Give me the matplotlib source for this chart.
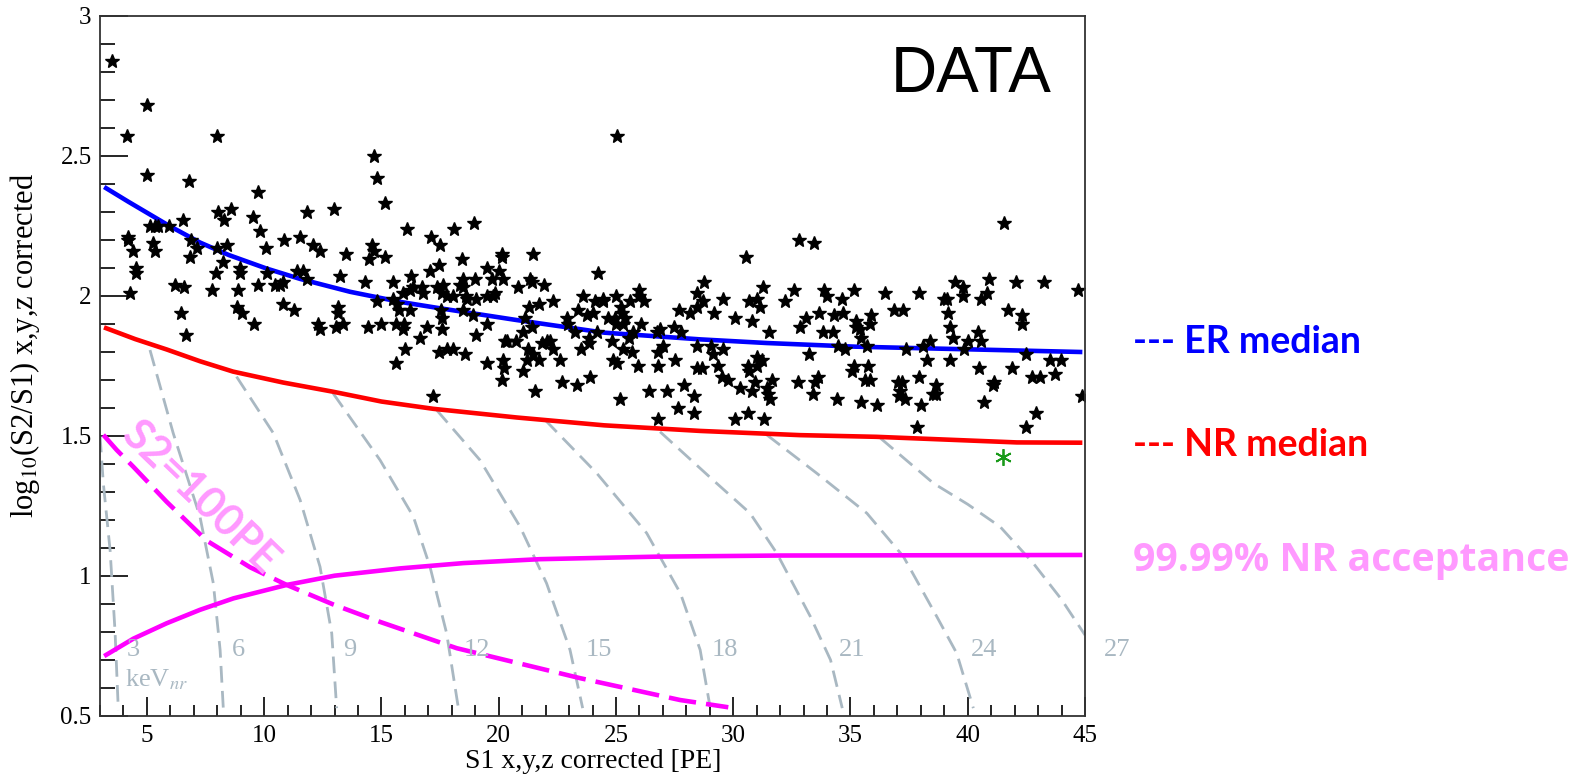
import numpy as np
import matplotlib.pyplot as plt
from matplotlib.ticker import MultipleLocator, FuncFormatter

plt.rcParams['font.family'] = ['Liberation Serif', 'DejaVu Serif']
plt.rcParams['mathtext.fontset'] = 'stix'

# events (S1 [PE], log10(S2/S1)), split by S1 range
evt_a = [(3.50, 2.84), (4.99, 2.68), (4.14, 2.57), (7.98, 2.57), (5.02, 2.43), (6.80, 2.41),
         (9.75, 2.37), (8.57, 2.31), (8.05, 2.30), (8.30, 2.27), (9.54, 2.28), (9.82, 2.23),
         (11.84, 2.30), (12.99, 2.31), (6.53, 2.27), (5.13, 2.25), (5.35, 2.25), (5.49, 2.25),
         (5.94, 2.25), (4.21, 2.21), (4.21, 2.20), (4.42, 2.16), (5.27, 2.19), (5.35, 2.16),
         (6.87, 2.20), (7.12, 2.17), (6.84, 2.14), (7.98, 2.17), (8.43, 2.18), (8.23, 2.12),
         (10.86, 2.20), (11.53, 2.21), (10.06, 2.17), (12.10, 2.18), (12.38, 2.16), (13.49, 2.15),
         (4.54, 2.10), (4.54, 2.08), (7.95, 2.08), (8.97, 2.10), (8.97, 2.08), (10.14, 2.08),
         (11.39, 2.09), (11.67, 2.09), (11.84, 2.06), (13.23, 2.07), (4.28, 2.01), (6.20, 2.04),
         (6.60, 2.03), (7.78, 2.02), (8.88, 2.02), (9.75, 2.04), (10.46, 2.04), (10.68, 2.04),
         (10.82, 2.05), (6.44, 1.94), (8.83, 1.96), (9.04, 1.94), (10.79, 1.97), (11.26, 1.95),
         (13.16, 1.96), (13.16, 1.94), (9.57, 1.90), (12.31, 1.90), (12.38, 1.88), (13.06, 1.89),
         (13.38, 1.90), (6.67, 1.86)]

evt_b = [(14.70, 2.50), (14.83, 2.42), (15.14, 2.33), (25.03, 2.57),
         (16.08, 2.24), (18.11, 2.24), (18.95, 2.26), (17.11, 2.21), (17.50, 2.18), (14.58, 2.18),
         (14.68, 2.16), (14.48, 2.13), (15.15, 2.14), (20.14, 2.15), (20.14, 2.14), (21.45, 2.15),
         (18.44, 2.13), (17.07, 2.09), (17.47, 2.11), (19.49, 2.10), (20.03, 2.09), (20.20, 2.06),
         (16.26, 2.07), (15.48, 2.05), (14.30, 2.05), (18.99, 2.06), (18.49, 2.06), (18.49, 2.03),
         (18.61, 2.00), (19.70, 2.06), (21.34, 2.06), (21.41, 2.05), (21.93, 2.04), (20.81, 2.03),
         (24.22, 2.08), (15.93, 2.01), (16.22, 2.02), (16.36, 2.03), (16.72, 2.03), (16.76, 2.01),
         (17.36, 2.03), (17.64, 2.04), (17.57, 2.01), (17.78, 2.00), (18.04, 2.00), (18.35, 2.04),
         (18.64, 1.99), (19.03, 1.99), (19.49, 2.00), (19.77, 2.00), (19.84, 2.01), (14.83, 1.98),
         (15.51, 1.99), (15.65, 1.97), (15.76, 1.95), (16.22, 1.95), (17.53, 1.95), (17.57, 1.92),
         (18.46, 1.95), (18.92, 1.93), (19.49, 1.90), (21.31, 1.96), (21.73, 1.97), (22.33, 1.98),
         (23.58, 2.00), (23.40, 1.95), (23.75, 1.93), (24.01, 1.94), (24.11, 1.98), (22.90, 1.92),
         (22.97, 1.90), (21.12, 1.92), (21.41, 1.89), (21.05, 1.87), (23.25, 1.87), (24.18, 1.87),
         (14.44, 1.89), (14.97, 1.90), (15.62, 1.90), (15.96, 1.90), (15.91, 1.88), (16.93, 1.89),
         (17.57, 1.88), (19.03, 1.86), (16.65, 1.85), (16.01, 1.81), (15.62, 1.76), (17.47, 1.80),
         (17.81, 1.81), (18.07, 1.81), (18.58, 1.79), (19.49, 1.76), (20.27, 1.84), (20.37, 1.84),
         (20.74, 1.84), (20.20, 1.77), (20.23, 1.74), (20.14, 1.70), (21.02, 1.73), (21.24, 1.81),
         (21.19, 1.77), (21.45, 1.79), (21.73, 1.77), (21.83, 1.83), (22.05, 1.84), (22.19, 1.84),
         (22.33, 1.81), (22.62, 1.77), (23.50, 1.81), (23.87, 1.83), (23.87, 1.85), (23.89, 1.71),
         (22.71, 1.69), (23.33, 1.68), (21.55, 1.66), (17.19, 1.64)]

evt_c = [(32.81, 2.20), (33.46, 2.19), (30.55, 2.14), (28.77, 2.05), (31.29, 2.03), (32.59, 2.02),
         (33.87, 2.02), (33.99, 2.00), (26.00, 2.02), (26.00, 2.00), (24.43, 1.99), (24.43, 1.98),
         (25.00, 2.00), (25.60, 1.98), (26.21, 1.98), (28.44, 2.01), (28.73, 1.98), (28.44, 1.96),
         (29.57, 1.99), (30.67, 1.98), (31.03, 1.99), (31.14, 1.96), (32.21, 1.98), (34.65, 1.99),
         (25.20, 1.96), (25.24, 1.94), (27.70, 1.95), (28.16, 1.94), (29.18, 1.94), (30.08, 1.92),
         (30.82, 1.91), (33.10, 1.92), (32.85, 1.89), (33.66, 1.94), (34.31, 1.93), (34.70, 1.94),
         (24.68, 1.92), (24.96, 1.92), (25.00, 1.90), (25.32, 1.90), (25.39, 1.92), (26.07, 1.90),
         (25.74, 1.87), (25.57, 1.85), (24.82, 1.84), (26.88, 1.88), (26.77, 1.87), (27.48, 1.89),
         (27.77, 1.87), (31.54, 1.87), (33.84, 1.87), (34.24, 1.87), (28.44, 1.82), (29.05, 1.82),
         (29.12, 1.79), (29.57, 1.81), (26.99, 1.82), (26.81, 1.80), (25.29, 1.81), (25.70, 1.80),
         (24.89, 1.77), (25.03, 1.76), (25.95, 1.75), (26.81, 1.75), (27.53, 1.77), (28.44, 1.74),
         (28.66, 1.74), (29.34, 1.75), (29.51, 1.71), (29.79, 1.70), (30.62, 1.75), (30.67, 1.73),
         (31.00, 1.78), (31.21, 1.77), (31.00, 1.75), (33.25, 1.79), (34.48, 1.82), (34.77, 1.81),
         (30.29, 1.67), (30.93, 1.69), (30.82, 1.66), (31.43, 1.67), (31.64, 1.70), (31.50, 1.65),
         (31.57, 1.63), (32.78, 1.69), (33.49, 1.69), (33.63, 1.71), (33.42, 1.65), (25.17, 1.63),
         (26.41, 1.66), (27.16, 1.66), (27.92, 1.68), (28.33, 1.64), (27.66, 1.60), (28.33, 1.58),
         (26.81, 1.56), (30.08, 1.56), (30.62, 1.58), (31.33, 1.56), (34.44, 1.63)]

evt_d = [(41.55, 2.26), (35.16, 2.02), (36.47, 2.01), (37.92, 2.01), (39.46, 2.05), (39.78, 2.03),
         (39.78, 2.00), (38.99, 1.99), (39.10, 1.99), (40.91, 2.06), (40.81, 2.01), (40.57, 1.99),
         (42.06, 2.05), (43.27, 2.05), (44.72, 2.02), (36.87, 1.95), (37.25, 1.95), (35.24, 1.91),
         (35.24, 1.89), (35.41, 1.88), (35.88, 1.93), (35.83, 1.90), (35.43, 1.85), (35.69, 1.82),
         (39.17, 1.94), (39.24, 1.89), (39.39, 1.85), (40.03, 1.84), (40.42, 1.87), (40.57, 1.84),
         (41.73, 1.95), (42.33, 1.93), (42.33, 1.90), (37.35, 1.81), (38.08, 1.82), (38.39, 1.84),
         (39.84, 1.81), (42.47, 1.79), (43.51, 1.77), (43.96, 1.77), (38.26, 1.77), (39.24, 1.77),
         (40.50, 1.74), (41.87, 1.74), (43.72, 1.72), (42.73, 1.71), (43.08, 1.71), (35.15, 1.75),
         (35.05, 1.73), (35.76, 1.75), (35.62, 1.70), (35.83, 1.70), (37.04, 1.69), (37.18, 1.69),
         (37.94, 1.71), (38.65, 1.68), (38.65, 1.65), (38.53, 1.65), (37.11, 1.66), (37.08, 1.64),
         (37.33, 1.63), (41.12, 1.69), (41.09, 1.68), (35.43, 1.62), (36.15, 1.61), (37.99, 1.61),
         (40.69, 1.62), (44.89, 1.64), (42.91, 1.58), (37.85, 1.53), (42.47, 1.53)]

# the single event below the NR median
odd_s1, odd_lr = [41.5], [1.424]

# bands
er_s1 = [3.26, 4.2, 5.13, 5.94, 7.26, 8.5, 10.1, 11.53, 13.66, 15.79, 17.5, 20.77, 24.5, 28.6, 31.43, 35.2, 39.24, 44.79]
er_med = [2.384, 2.336, 2.290, 2.250, 2.190, 2.145, 2.097, 2.060, 2.014, 1.978, 1.955, 1.913, 1.868, 1.844, 1.831, 1.818, 1.810, 1.799]
nr_s1 = [3.26, 4.5, 5.84, 7.26, 8.67, 10.8, 12.94, 15.0, 17.21, 20.77, 24.5, 28.6, 32.85, 36.1, 42.09, 44.79]
nr_med = [1.884, 1.845, 1.808, 1.766, 1.729, 1.690, 1.657, 1.622, 1.596, 1.565, 1.537, 1.517, 1.502, 1.496, 1.476, 1.475]
acc_s1 = [3.26, 4.42, 5.84, 7.26, 8.69, 10.96, 13.0, 15.79, 18.5, 21.76, 26.74, 32.0, 44.79]
acc_lr = [0.717, 0.775, 0.830, 0.878, 0.919, 0.967, 1.0, 1.026, 1.045, 1.059, 1.068, 1.072, 1.074]
s2_s1 = [3.14, 3.71, 4.42, 5.84, 7.55, 9.40, 10.96, 12.95, 14.94, 18.21, 23.47, 27.73, 29.79]
s2_lr = [1.503, 1.449, 1.389, 1.264, 1.125, 1.030, 0.967, 0.897, 0.835, 0.741, 0.634, 0.556, 0.530]

# keVnr energy contours
kev = [3, 6, 9, 12, 15, 18, 21, 24, 27]
kev_s1 = [
    [3.0, 3.14, 3.43, 3.64, 3.78],
    [5.13, 6.12, 7.26, 7.83, 8.12, 8.26],
    [8.82, 10.39, 11.53, 12.38, 12.88, 13.09],
    [12.94, 14.94, 16.36, 17.07, 17.78, 18.28],
    [17.35, 19.2, 20.91, 22.04, 23.04, 23.58],
    [21.98, 24.18, 26.31, 27.75, 28.59, 29.01],
    [26.88, 29.16, 30.72, 31.86, 33.29, 34.15, 34.65],
    [31.43, 33.56, 35.7, 37.26, 38.68, 39.53, 40.24],
    [36.28, 38.54, 40.0, 41.38, 42.80, 44.0, 45.0],
]
kev_lr = [
    [1.50, 1.33, 1.09, 0.80, 0.52],
    [1.806, 1.509, 1.211, 0.973, 0.735, 0.52],
    [1.711, 1.509, 1.271, 1.032, 0.794, 0.527],
    [1.651, 1.413, 1.211, 1.032, 0.794, 0.527],
    [1.592, 1.413, 1.175, 0.973, 0.735, 0.527],
    [1.556, 1.366, 1.152, 0.937, 0.735, 0.532],
    [1.514, 1.340, 1.223, 1.080, 0.854, 0.699, 0.527],
    [1.503, 1.366, 1.223, 1.068, 0.854, 0.723, 0.527],
    [1.491, 1.330, 1.255, 1.175, 1.044, 0.915, 0.788],
]
kev_lab_s1 = [4.42, 8.9, 13.66, 19.06, 24.25, 29.65, 35.05, 40.68, 46.35]
kev_lab_y = 0.735

grey = '#a9b8c2'

fig = plt.figure(figsize=(15.93, 7.78), dpi=100)
ax = fig.add_axes([0.0628, 0.0801, 0.6183, 0.8997])

for xs, ys in zip(kev_s1, kev_lr):
    ax.plot(xs, ys, color=grey, lw=2.0, dashes=(6, 3), dash_capstyle='butt')
for k, xl in zip(kev, kev_lab_s1):
    ax.text(xl, kev_lab_y, str(k), color=grey, fontsize=19, ha='center', va='center', clip_on=False)
ax.text(5.4, 0.627, 'keV$_{nr}$', color=grey, fontsize=19, ha='center', va='center')

ax.plot(er_s1, er_med, color='#0000ff', lw=3.3)
ax.plot(nr_s1, nr_med, color='#ff0000', lw=3.3)
ax.plot(acc_s1, acc_lr, color='#ff00ff', lw=3.3)
ax.plot(s2_s1, s2_lr, color='#ff00ff', lw=3.3, dashes=(6, 2.2), dash_capstyle='butt')

evts = np.array(evt_a + evt_b + evt_c + evt_d)
ax.plot(evts[:, 0], evts[:, 1], ls='none', marker='*', ms=10, mec='black', mew=1.0, color='black')
ax.plot(odd_s1, odd_lr, ls='none', marker=(6, 2, 0), ms=12, mew=1.3, color='#1a9a1a')

ax.text(7.25, 1.28, 'S2=100PE', rotation=-44, rotation_mode='anchor', ha='center', va='center',
        fontsize=31, fontweight='bold', color='#ff99ff', family=['Lato', 'DejaVu Sans'])
ax.text(0.966, 0.958, 'DATA', transform=ax.transAxes, ha='right', va='top', fontsize=46,
        family=['Liberation Sans', 'DejaVu Sans'])

ax.set_xlim(3, 45)
ax.set_ylim(0.5, 3)
ax.xaxis.set_major_locator(MultipleLocator(5))
ax.xaxis.set_minor_locator(MultipleLocator(1))
ax.yaxis.set_major_locator(MultipleLocator(0.5))
ax.yaxis.set_minor_locator(MultipleLocator(0.1))
ax.yaxis.set_major_formatter(FuncFormatter(lambda v, p: '%g' % v))
ax.tick_params(axis='x', which='major', direction='in', length=14, width=1.2, labelsize=18, pad=7)
ax.tick_params(axis='x', which='minor', direction='in', length=8, width=1.2)
ax.tick_params(axis='y', which='major', direction='in', length=20, width=1.2, labelsize=18, pad=6)
ax.tick_params(axis='y', which='minor', direction='in', length=11, width=1.2)
for s in ax.spines.values():
    s.set_color('#333333')
    s.set_linewidth(1.3)

fig.text(593 / 1593, 1 - 761 / 778, 'S1 x,y,z corrected [PE]', ha='center', va='center', fontsize=20)
fig.text(25 / 1593, 1 - 345 / 778, 'log$_{10}$(S2/S1) x,y,z corrected', rotation=90,
         ha='center', va='center', fontsize=22)

fig.text(1133 / 1593, 1 - 342 / 778, '--- ER median', color='#0000ff', fontsize=27,
         fontweight='bold', va='center', family=['Lato', 'DejaVu Sans'])
fig.text(1133 / 1593, 1 - 445 / 778, '--- NR median', color='#ff0000', fontsize=27,
         fontweight='bold', va='center', family=['Lato', 'DejaVu Sans'])
fig.text(1133 / 1593, 1 - 560 / 778, '99.99% NR acceptance', color='#ff99ff', fontsize=28.3,
         fontweight='bold', va='center', family=['Open Sans', 'DejaVu Sans'])

fig.savefig('out.png', dpi=100)
